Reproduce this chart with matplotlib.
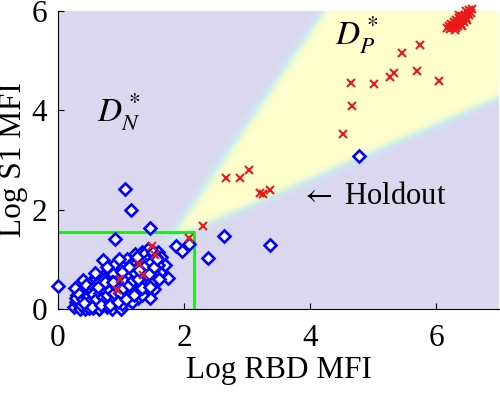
import numpy as np
import matplotlib
matplotlib.use('Agg')
import matplotlib.pyplot as plt
from matplotlib.colors import LinearSegmentedColormap

plt.rcParams['font.family'] = ['Liberation Serif', 'DejaVu Serif']
plt.rcParams['mathtext.fontset'] = 'stix'

# negative samples (blue diamonds)
neg_x = [0.25, 0.28, 0.30, 0.27, 0.33, 0.36, 0.38, 0.40, 0.42, 0.43, 0.45, 0.47, 0.48, 0.50, 0.52,
         0.53, 0.55, 0.56, 0.58, 0.60, 0.61, 0.62, 0.64, 0.66, 0.67, 0.69, 0.71, 0.70, 0.72, 0.74,
         0.75, 0.77, 0.78, 0.80, 0.82, 0.83, 0.85, 0.86, 0.88, 0.89, 0.90, 0.91, 0.92, 0.94, 0.95,
         0.96, 0.98, 0.99, 1.00, 1.02, 1.03, 1.04, 1.06, 1.06, 1.07, 1.08, 1.10, 1.11, 1.12, 1.13,
         1.15, 1.16, 1.17, 1.18, 1.19, 1.20, 1.22, 1.23, 1.24, 1.26, 1.27, 1.28, 1.30, 1.31, 1.33,
         1.34, 1.36, 1.38, 1.40, 1.41, 1.43, 1.44, 1.46, 1.46, 1.47, 1.49, 1.51, 1.53, 1.55, 1.58,
         1.62, 1.64, 1.70, 1.75, 1.87, 1.97, 2.08, 2.38, 2.63, 3.37, 4.78, 0.00, 0.35, 0.50, 0.65,
         0.85, 0.60, 0.80, 0.55, 1.00,
         0.32, 0.37, 0.41, 0.44, 0.49, 0.51, 0.54, 0.57, 0.59, 0.63, 0.65, 0.68, 0.70, 0.73, 0.76,
         0.79, 0.81, 0.84, 0.87, 0.90, 0.93, 0.97, 1.00, 1.01, 1.05, 1.09, 1.10, 1.14, 1.16, 1.21,
         1.25, 1.29, 1.32, 1.35, 1.37, 1.39, 1.42, 1.45, 1.48, 1.50, 1.52, 1.56, 1.59, 1.61, 1.18,
         1.34, 0.58, 0.78, 0.97, 1.26,
         0.29, 0.34, 0.39, 0.46, 0.52, 0.56, 0.61, 0.66, 0.71, 0.74, 0.77, 0.83, 0.86, 0.89, 0.94,
         0.99, 1.03, 1.07, 1.12, 1.15, 1.19, 1.23, 1.27, 1.31, 1.36, 1.40, 1.44, 1.48, 1.53, 1.57,
         0.42, 0.54, 0.68, 0.82, 0.95, 1.08, 1.21, 1.33, 1.46, 0.64, 0.75, 0.88, 1.02, 1.13, 1.28]
neg_y = [0.05, 0.15, 0.28, 0.42, 0.10, 0.22, 0.35, 0.59, 0.05, 0.00, 0.18, 0.30, 0.45, 0.10, 0.25,
         0.55, 0.38, 0.02, 0.15, 0.30, 0.48, 0.65, 0.08, 0.22, 0.40, 0.55, 0.99, 0.12, 0.30, 0.45,
         0.70, 0.05, 0.20, 0.35, 0.52, 0.80, 0.12, 0.28, 0.42, 0.62, 1.41, 0.90, 0.18, 0.35, 0.50,
         0.72, 0.08, 0.25, 0.42, 0.58, 0.85, 0.15, 2.42, 0.32, 0.48, 0.68, 1.00, 0.22, 0.40, 0.55,
         0.78, 2.00, 0.30, 0.92, 0.48, 0.65, 1.10, 0.38, 0.82, 0.55, 0.22, 0.98, 0.70, 0.45, 1.15,
         0.85, 0.60, 1.02, 0.75, 0.50, 1.20, 0.90, 0.22, 1.64, 0.65, 1.05, 0.82, 0.40, 0.95, 1.15,
         0.75, 1.05, 0.89, 0.63, 1.27, 1.17, 1.31, 1.03, 1.47, 1.29, 3.09, 0.46, 0.00, 0.40, 0.00,
         0.00, 0.60, 0.65, 0.20, 0.00,
         0.18, 0.08, 0.30, 0.48, 0.02, 0.35, 0.12, 0.45, 0.25, 0.38, 0.55, 0.18, 0.32, 0.60, 0.40,
         0.10, 0.28, 0.45, 0.70, 0.20, 0.55, 0.38, 0.65, 0.10, 0.50, 0.30, 0.80, 0.62, 0.42, 0.88,
         0.68, 0.35, 0.90, 0.52, 1.10, 0.68, 0.98, 0.80, 0.55, 1.15, 0.70, 1.05, 0.88, 0.60, 0.15,
         0.28, 0.72, 0.85, 1.00, 1.05,
         0.22, 0.30, 0.20, 0.25, 0.18, 0.30, 0.20, 0.32, 0.25, 0.38, 0.28, 0.38, 0.55, 0.33, 0.45,
         0.32, 0.42, 0.58, 0.48, 0.68, 0.58, 0.72, 0.60, 0.80, 0.72, 0.88, 0.70, 0.95, 0.85, 1.00,
         0.12, 0.05, 0.08, 0.08, 0.15, 0.20, 0.28, 0.42, 0.45, 0.45, 0.55, 0.55, 0.75, 0.85, 0.78]

# positive samples (red crosses)
pos_x = [0.98, 0.93, 1.29, 1.35, 1.49, 1.54, 2.08, 2.30, 2.67, 2.89, 3.03, 3.21, 3.25, 3.37,
         4.52, 4.67, 4.65, 5.02, 5.27, 5.33, 5.46, 5.75, 5.70, 6.05,
         6.17, 6.20, 6.22, 6.24, 6.26, 6.28, 6.29, 6.31, 6.32, 6.34, 6.35, 6.37, 6.38, 6.40,
         6.41, 6.43, 6.44, 6.46, 6.47, 6.49, 6.50, 6.52, 6.53, 6.55, 6.57, 6.30, 6.42, 6.48, 6.36]
pos_y = [0.61, 0.38, 0.91, 0.69, 1.27, 1.09, 1.43, 1.68, 2.63, 2.63, 2.81, 2.34, 2.32, 2.40,
         3.52, 4.08, 4.56, 4.53, 4.67, 4.75, 5.15, 5.31, 4.79, 4.59,
         5.66, 5.70, 5.64, 5.74, 5.68, 5.78, 5.72, 5.66, 5.82, 5.76, 5.70, 5.86, 5.80, 5.74,
         5.90, 5.84, 5.78, 5.93, 5.87, 5.82, 5.97, 5.92, 6.02, 5.96, 6.05, 5.62, 5.71, 6.00, 5.92]

# holdout box
box_x = 2.16
box_y = 1.56

# wedge of the positive region (apex, slopes of lower / upper edge)
apex_x, apex_y = 1.77, 1.39
slope_low, slope_up = 0.55, 1.88
edge_w = 0.045

fig = plt.figure(figsize=(5.0, 3.93), dpi=100)
ax = fig.add_axes([0.116, 0.2137, 0.882, 0.758])

gx, gy = np.meshgrid(np.linspace(0, 7, 700), np.linspace(0, 6, 600))
dx = gx - apex_x
dy = gy - apex_y
d_low = (dy - slope_low * dx) / np.sqrt(1 + slope_low ** 2)
d_up = (slope_up * dx - dy) / np.sqrt(1 + slope_up ** 2)
field = 1 / (1 + np.exp(-d_low / edge_w)) / (1 + np.exp(-d_up / edge_w))

cmap = LinearSegmentedColormap.from_list('bg', [(0.855, 0.845, 0.935), (0.80, 0.92, 0.95),
                                                (0.90, 0.97, 0.83), (1.0, 1.0, 0.80)])
ax.imshow(field, extent=[0, 7, 0, 6], origin='lower', aspect='auto', cmap=cmap,
          vmin=0, vmax=1, interpolation='bilinear', zorder=0)

ax.plot([0, box_x, box_x], [box_y, box_y, 0], color=(0.1, 0.9, 0.1), lw=2, zorder=2)

ax.plot(neg_x, neg_y, 'D', ms=5.8, mfc='white', mec='blue', mew=1.9, ls='none',
        zorder=3, clip_on=False)
ax.plot(pos_x, pos_y, 'x', ms=5.5, color=(0.92, 0.1, 0.1), mew=1.5, ls='none',
        zorder=4, clip_on=False)

ax.text(0.62, 3.8, r'$D^*_N$', fontsize=24)
ax.text(4.40, 5.33, r'$D^*_P$', fontsize=24)
ax.text(3.84, 2.26, r'$\leftarrow$ Holdout', fontsize=22, va='center')

ax.set_xlim(0, 7)
ax.set_ylim(0, 6)
ax.set_xticks([0, 2, 4, 6])
ax.set_yticks([0, 2, 4, 6])
ax.tick_params(direction='in', labelsize=22.5, length=4)
ax.tick_params(axis='x', pad=11)
ax.tick_params(axis='y', pad=8)
ax.spines['top'].set_visible(False)
ax.spines['right'].set_visible(False)
ax.set_xlabel('Log RBD MFI', fontsize=22.5, labelpad=2)
ax.set_ylabel('Log S1 MFI', fontsize=22.5, labelpad=2)

plt.savefig('out.png', dpi=100)
